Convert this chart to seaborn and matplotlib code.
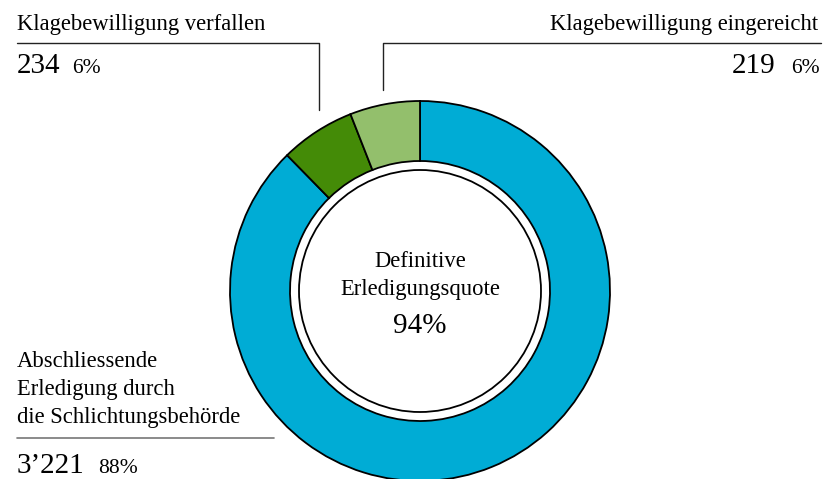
import numpy as np
import seaborn as sns
from matplotlib import pyplot as plt
from matplotlib.patches import Circle

sns.set_theme(style="white")
plt.rcParams['font.family'] = ['Liberation Serif', 'DejaVu Serif']
plt.rcParams['text.color'] = 'black'

# data
categories = ["Abschliessende\nErledigung durch\ndie Schlichtungsbehörde",
              "Klagebewilligung verfallen",
              "Klagebewilligung eingereicht"]
counts = [3221, 234, 219]
colors = ["#00acd5", "#448b07", "#93bf6c"]

total = sum(counts)
shares = [c / total for c in counts]
quote = (counts[0] + counts[2]) / total

def fmt(n):
    return f"{n:,}".replace(",", "\u2019")

W, H = 823, 479
fig = plt.figure(figsize=(W / 100, H / 100), dpi=100)
ax = fig.add_axes([0, 0, 1, 1])

# donut (y axis is flipped, so counterclock here runs clockwise on screen)
cx, cy, R = 420, 291, 190
wedges, _ = ax.pie(counts, colors=colors, startangle=-90, counterclock=True,
                   radius=R, center=(cx, cy), frame=True,
                   wedgeprops=dict(width=60, edgecolor="black", linewidth=1.3))
ax.set_xlim(0, W)
ax.set_ylim(H, 0)
ax.set_aspect("equal")
ax.axis("off")
ax.add_patch(Circle((cx, cy), 121, facecolor="white", edgecolor="black", lw=1.3, zorder=5))

lab = 16.3
big = 21
small = 15.5

# center text
ax.text(cx, 267, "Definitive", ha="center", va="baseline", fontsize=lab, zorder=6)
ax.text(cx, 295, "Erledigungsquote", ha="center", va="baseline", fontsize=lab, zorder=6)
ax.text(cx, 333, f"{quote:.0%}", ha="center", va="baseline", fontsize=big, zorder=6)

lc = "#222222"
# Klagebewilligung verfallen
ax.text(17, 30, categories[1], ha="left", va="baseline", fontsize=lab)
ax.plot([17, 319, 319], [43, 43, 110], color=lc, lw=1)
ax.text(17, 73, fmt(counts[1]), ha="left", va="baseline", fontsize=big)
ax.text(72, 73, f"{shares[1]:.0%}", ha="left", va="baseline", fontsize=small)

# Klagebewilligung eingereicht
ax.text(818, 30, categories[2], ha="right", va="baseline", fontsize=lab)
ax.plot([383, 383, 821], [90, 43, 43], color=lc, lw=1)
ax.text(820, 73, f"{shares[2]:.0%}", ha="right", va="baseline", fontsize=small)
ax.text(776, 73, fmt(counts[2]), ha="right", va="baseline", fontsize=big)

# Abschliessende Erledigung
for i, line in enumerate(categories[0].split("\n")):
    ax.text(17, 367 + i * 28, line, ha="left", va="baseline", fontsize=lab)
ax.plot([17, 274], [438, 438], color="#777777", lw=1.2)
ax.text(17, 473, fmt(counts[0]), ha="left", va="baseline", fontsize=big)
ax.text(98, 473, f"{shares[0]:.0%}", ha="left", va="baseline", fontsize=small)

fig.savefig("out.png", dpi=100)
